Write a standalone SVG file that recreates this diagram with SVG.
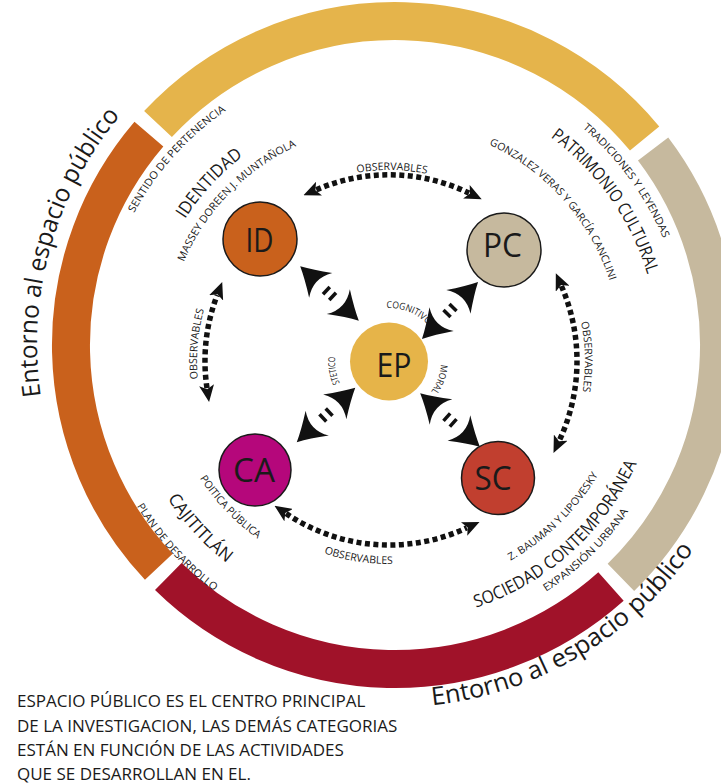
<svg xmlns="http://www.w3.org/2000/svg" width="721" height="784" viewBox="0 0 721 784">
<style>
.t{font-family:"Open Sans","Liberation Sans",sans-serif;fill:#1a1a1a}
.ring{fill:none;stroke-width:38}
.node{stroke:#1a1a1a;stroke-width:1.5}
.lbl{font-size:33px;text-anchor:middle}
.dot{fill:none;stroke:#111;stroke-width:5.5;stroke-dasharray:5 3.5;marker-start:url(#ah);marker-end:url(#ah)}
.big{font-size:25px}
.mid{font-size:17.5px}
.sm{font-size:10.5px}
.xs{font-size:9.5px}
</style>
<defs>
<marker id="ah" viewBox="0 0 17 15" refX="3" refY="7.5" markerWidth="17" markerHeight="15" markerUnits="userSpaceOnUse" orient="auto-start-reverse">
<path d="M0,0 L17,7.5 L0,15 L4,7.5 Z" fill="#111"/>
</marker>
<g id="dbl" fill="#111">
<path d="M40,0 Q28,-6 12,-17 Q23,0 12,17 Q28,6 40,0 Z"/>
<path d="M-40,0 Q-28,-6 -12,-17 Q-23,0 -12,17 Q-28,6 -40,0 Z"/>
<rect x="-6" y="-5" width="3.5" height="10"/>
<rect x="2.5" y="-5" width="3.5" height="10"/>
</g>
<path id="pLeft" d="M40.7,396.1 A358,358 0 0 1 155.5,79"/>
<path id="pBot" d="M432.2,705.1 A362,362 0 0 0 723.1,498"/>
<path id="pSent" d="M134,213.1 A293,293 0 0 1 245.5,98.3"/>
<path id="pIdent" d="M185,219.1 A246,246 0 0 1 269,139"/>
<path id="pMass" d="M183.7,261.9 A227,227 0 0 1 333.3,132.7"/>
<path id="pTrad" d="M582.5,128.1 A294,294 0 0 1 676,275.9"/>
<path id="pPatr" d="M550.4,137.1 A267,267 0 0 1 654.9,305.6"/>
<path id="pGonz" d="M489.1,144.6 A229,229 0 0 1 617.5,312.2"/>
<path id="pPoit" d="M199.8,478.3 A230,230 0 0 0 294.8,560.4"/>
<path id="pCaji" d="M167.5,498.4 A268,268 0 0 0 258,584.1"/>
<path id="pPlan" d="M136.8,505.9 A298,298 0 0 0 252.1,615.1"/>
<path id="pBaum" d="M510.5,560.7 A240,240 0 0 0 609.5,453.4"/>
<path id="pSoc" d="M476,607.6 A269,269 0 0 0 651.8,421.6"/>
<path id="pExp" d="M546,591.8 A285,285 0 0 0 650.3,472.4"/>
<path id="pObsT" d="M293.5,195.6 A191,191 0 0 1 484.5,195.6"/>
<path id="pObsL" d="M222.7,457 A192,192 0 0 1 222.7,265"/>
<path id="pObsR" d="M558.7,263 A196,196 0 0 1 558.7,459"/>
<path id="pObsB" d="M258.5,516.5 A203,203 0 0 0 519.5,516.5"/>
<path id="pCog" d="M381.6,308.5 A53,53 0 0 1 434.9,334.5"/>
<path id="pMor" d="M441,361 A52,52 0 0 1 415,406"/>
<path id="pEst" d="M344.8,392 A54,54 0 0 1 338.3,342.5"/>
</defs>
<rect width="721" height="784" fill="#fff"/>
<g id="ring">
<path class="ring" stroke="#C9611C" d="M158.8,566.8 A324,324 0 0 1 148.9,134.2"/>
<path class="ring" stroke="#E5B44B" d="M158,124 A324,324 0 0 1 644.6,138.5"/>
<path class="ring" stroke="#C6B99E" d="M653.1,149.1 A324,324 0 0 1 620.9,577.3"/>
<path class="ring" stroke="#A01229" d="M611,586.5 A324,324 0 0 1 168.3,576.5"/>
</g>
<g id="ring-labels" class="t">
<text class="big"><textPath href="#pLeft" textLength="300" lengthAdjust="spacingAndGlyphs">Entorno al espacio público</textPath></text>
<text class="big"><textPath href="#pBot" textLength="314" lengthAdjust="spacingAndGlyphs">Entorno al espacio público</textPath></text>
<text class="sm"><textPath href="#pSent" textLength="139" lengthAdjust="spacingAndGlyphs">SENTIDO DE PERTENENCIA</textPath></text>
<text class="mid"><textPath href="#pIdent" textLength="86" lengthAdjust="spacingAndGlyphs">IDENTIDAD</textPath></text>
<text class="sm"><textPath href="#pMass" textLength="165" lengthAdjust="spacingAndGlyphs">MASSEY DOREEN J. MUNTAÑOLA</textPath></text>
<text class="sm"><textPath href="#pTrad" textLength="138" lengthAdjust="spacingAndGlyphs">TRADICIONES Y LEYENDAS</textPath></text>
<text class="mid"><textPath href="#pPatr" textLength="171" lengthAdjust="spacingAndGlyphs">PATRIMONIO CULTURAL</textPath></text>
<text class="sm"><textPath href="#pGonz" textLength="187" lengthAdjust="spacingAndGlyphs">GONZALEZ VERAS Y GARCÍA CANCLINI</textPath></text>
<text class="sm"><textPath href="#pPoit" textLength="84" lengthAdjust="spacingAndGlyphs">POITICA PÚBLICA</textPath></text>
<text class="mid"><textPath href="#pCaji" textLength="88" lengthAdjust="spacingAndGlyphs">CAJITITLÁN</textPath></text>
<text class="sm"><textPath href="#pPlan" textLength="116" lengthAdjust="spacingAndGlyphs">PLAN DE DESARROLLO</textPath></text>
<text class="sm"><textPath href="#pBaum" textLength="124" lengthAdjust="spacingAndGlyphs">Z. BAUMAN Y LIPOVESKY</textPath></text>
<text class="mid"><textPath href="#pSoc" textLength="222" lengthAdjust="spacingAndGlyphs">SOCIEDAD CONTEMPORÁNEA</textPath></text>
<text class="sm"><textPath href="#pExp" textLength="116" lengthAdjust="spacingAndGlyphs">EXPANSIÓN URBANA</textPath></text>
</g>
<g id="connectors">
<path class="dot" d="M316.3,189.8 A184,184 0 0 1 469.1,193.1"/>
<path class="dot" d="M207,388.2 A184,184 0 0 1 217.2,295.1"/>
<path class="dot" d="M561.4,286 A188,188 0 0 1 559.4,440.4"/>
<path class="dot" d="M286.1,513.5 A184,184 0 0 0 466.8,527.8"/>
<g class="t sm">
<text text-anchor="middle"><textPath href="#pObsT" startOffset="51.5%" textLength="70" lengthAdjust="spacingAndGlyphs">OBSERVABLES</textPath></text>
<text text-anchor="middle"><textPath href="#pObsL" startOffset="58.5%" textLength="70" lengthAdjust="spacingAndGlyphs">OBSERVABLES</textPath></text>
<text text-anchor="middle"><textPath href="#pObsR" startOffset="48%" textLength="70" lengthAdjust="spacingAndGlyphs">OBSERVABLES</textPath></text>
<text text-anchor="middle"><textPath href="#pObsB" startOffset="39%" textLength="70" lengthAdjust="spacingAndGlyphs">OBSERVABLES</textPath></text>
</g>
<g class="t xs">
<text><textPath href="#pCog" startOffset="5" textLength="46" lengthAdjust="spacingAndGlyphs">COGNITIVO</textPath></text>
<text><textPath href="#pMor" startOffset="3.6" textLength="29" lengthAdjust="spacingAndGlyphs">MORAL</textPath></text>
<text><textPath href="#pEst" startOffset="10" textLength="27" lengthAdjust="spacingAndGlyphs">STETICO</textPath></text>
</g>
<use href="#dbl" transform="translate(329.5,293.5) rotate(42.9)"/>
<use href="#dbl" transform="translate(450,310.5) rotate(134.5)"/>
<use href="#dbl" transform="translate(326,415) rotate(137)"/>
<use href="#dbl" transform="translate(450,420) rotate(41.8)"/>
</g>
<g id="node-ID">
<circle class="node" cx="260" cy="239" r="37" fill="#C9611C"/>
<text class="t lbl" x="259.5" y="251.5" textLength="28" lengthAdjust="spacingAndGlyphs">ID</text>
</g>
<g id="node-PC">
<circle class="node" cx="504" cy="250" r="37" fill="#C6B99E"/>
<text class="t lbl" x="502.5" y="257" textLength="39" lengthAdjust="spacingAndGlyphs">PC</text>
</g>
<g id="node-EP">
<circle cx="389" cy="361.5" r="39" fill="#E6B449"/>
<text class="t lbl" x="394" y="376.5" textLength="35" lengthAdjust="spacingAndGlyphs">EP</text>
</g>
<g id="node-CA">
<circle class="node" cx="255" cy="470" r="36" fill="#B5077B"/>
<text class="t lbl" x="254" y="481.5" textLength="42" lengthAdjust="spacingAndGlyphs">CA</text>
</g>
<g id="node-SC">
<circle class="node" cx="498" cy="478" r="36.5" fill="#C13F2F"/>
<text class="t lbl" x="493" y="490" textLength="37" lengthAdjust="spacingAndGlyphs">SC</text>
</g>
<g id="note" class="t" font-size="17">
<text x="17" y="707">ESPACIO PÚBLICO ES EL CENTRO PRINCIPAL</text>
<text x="17" y="731.5">DE LA INVESTIGACION, LAS DEMÁS CATEGORIAS</text>
<text x="17" y="756">ESTÁN EN FUNCIÓN DE LAS ACTIVIDADES</text>
<text x="17" y="779.5">QUE SE DESARROLLAN EN EL.</text>
</g>
</svg>
